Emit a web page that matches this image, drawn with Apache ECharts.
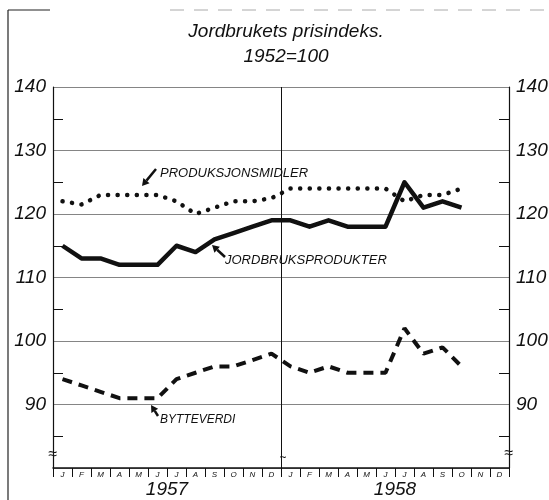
<!DOCTYPE html>
<html>
<head>
<meta charset="utf-8">
<script src="https://cdn.jsdelivr.net/npm/echarts@6/dist/echarts.min.js"></script>
<style>
  html, body { margin: 0; padding: 0; background: #fff; }
  #chart { width: 549px; height: 500px; }
</style>
</head>
<body>
<div id="chart"></div>
<script>
// month letters and years on the x axis
var monthLetters = ["J", "F", "M", "A", "M", "J", "J", "A", "S", "O", "N", "D"];
var years = ["1957", "1958"];
var categories = [];
years.forEach(function (y) {
  monthLetters.forEach(function (m, i) { categories.push(y + "-" + (i + 1)); });
});

// index values, 1952 = 100 (Jan 1957 .. Oct 1958)
var jordbruksprodukter = [115, 113, 113, 112, 112, 112, 115, 114, 116, 117, 118, 119,
                          119, 118, 119, 118, 118, 118, 125, 121, 122, 121, null, null];
var produksjonsmidler = [122, 121.5, 123, 123, 123, 123, 122, 120, 121, 122, 122, 122.5,
                         124, 124, 124, 124, 124, 124, 122, 123, 123, 124, null, null];
var bytteverdi = [94, 93, 92, 91, 91, 91, 94, 95, 96, 96, 97, 98,
                  96, 95, 96, 95, 95, 95, 102, 98, 99, 96, null, null];

var FONT = "Liberation Sans";
var ital = { fontFamily: FONT, fontStyle: "italic", color: "#111" };

function arrow(x1, y1, x2, y2) {
  var a = Math.atan2(y2 - y1, x2 - x1);
  var len = 7, w = 4;
  var bx = x2 - len * Math.cos(a), by = y2 - len * Math.sin(a);
  var px = -Math.sin(a) * w, py = Math.cos(a) * w;
  return {
    type: "group",
    children: [
      { type: "line", shape: { x1: x1, y1: y1, x2: bx, y2: by }, style: { stroke: "#111", lineWidth: 2.5 } },
      { type: "polygon", shape: { points: [[x2, y2], [bx + px, by + py], [bx - px, by - py]] }, style: { fill: "#111" } }
    ]
  };
}

function yAxisCfg(pos, showSplit) {
  return {
    type: "value",
    position: pos,
    min: 80,
    max: 140,
    interval: 10,
    axisLine: { show: true, lineStyle: { color: "#111", width: 1.2 } },
    axisTick: { show: false, inside: true },
    minorTick: { show: true, splitNumber: 2, length: 10, lineStyle: { color: "#111", width: 1 } },
    splitLine: { show: showSplit, lineStyle: { color: "#666", width: 0.8 } },
    axisLabel: Object.assign({
      fontSize: 19,
      margin: 7,
      formatter: function (v) { return v === 80 ? "" : v; }
    }, ital)
  };
}

var chart = echarts.init(document.getElementById("chart"));
chart.setOption({
  backgroundColor: "#fff",
  animation: false,
  title: {
    text: "Jordbrukets prisindeks.\n1952=100",
    left: 281,
    top: 14,
    textAlign: "center",
    textStyle: Object.assign({ fontSize: 19, fontWeight: "normal", lineHeight: 25 }, ital)
  },
  grid: { left: 53, right: 40, top: 87, bottom: 32, outerBoundsMode: "none" },
  xAxis: [
    {
      type: "category",
      data: categories,
      boundaryGap: true,
      axisLine: { lineStyle: { color: "#111", width: 1.5 } },
      axisTick: { show: true, interval: 0, length: 9, lineStyle: { color: "#111", width: 1 } },
      axisLabel: Object.assign({
        interval: 0,
        fontSize: 8,
        margin: 3,
        formatter: function (v, i) { return monthLetters[i % 12]; }
      }, ital),
      splitLine: { show: false }
    },
    {
      type: "category",
      data: years,
      position: "bottom",
      offset: 10,
      boundaryGap: true,
      axisLine: { show: false },
      axisTick: { show: false },
      axisLabel: Object.assign({ fontSize: 19, margin: 2 }, ital),
      splitLine: { show: true, lineStyle: { color: "#111", width: 1 } }
    }
  ],
  yAxis: [yAxisCfg("left", true), yAxisCfg("right", false)],
  series: [
    {
      name: "Produksjonsmidler",
      type: "line",
      data: produksjonsmidler,
      showSymbol: false,
      lineStyle: { color: "#111", width: 4.5, type: [0.1, 9.5], cap: "round" },
      z: 3
    },
    {
      name: "Jordbruksprodukter",
      type: "line",
      data: jordbruksprodukter,
      showSymbol: false,
      lineStyle: { color: "#111", width: 4.5, join: "round" },
      z: 4
    },
    {
      name: "Bytteverdi",
      type: "line",
      data: bytteverdi,
      showSymbol: false,
      lineStyle: { color: "#111", width: 4, type: [10, 7] },
      z: 3
    }
  ],
  graphic: [
    // scanned frame edges
    { type: "line", shape: { x1: 8, y1: 10, x2: 8, y2: 500 }, style: { stroke: "#222", lineWidth: 1.2 } },
    { type: "line", shape: { x1: 8, y1: 10, x2: 50, y2: 10 }, style: { stroke: "#222", lineWidth: 1.2 } },
    { type: "line", shape: { x1: 170, y1: 10, x2: 549, y2: 10 }, style: { stroke: "#aaa", lineWidth: 1, lineDash: [14, 10] } },
    // annotations
    { type: "text", x: 160, y: 173, style: { text: "PRODUKSJONSMIDLER", fontSize: 13, verticalAlign: "middle", fill: "#111", fontFamily: FONT, fontStyle: "italic" } },
    arrow(156, 169, 142, 186),
    { type: "text", x: 225, y: 260, style: { text: "JORDBRUKSPRODUKTER", fontSize: 13, verticalAlign: "middle", fill: "#111", fontFamily: FONT, fontStyle: "italic" } },
    arrow(225, 257, 212, 245),
    { type: "text", x: 160, y: 420, style: { text: "BYTTEVERDI", fontSize: 12, verticalAlign: "middle", fill: "#111", fontFamily: FONT, fontStyle: "italic" } },
    arrow(158, 416, 151, 405),
    // axis break marks
    { type: "text", x: 53, y: 455, style: { text: "≈", fontSize: 16, align: "center", verticalAlign: "middle", fill: "#111" } },
    { type: "text", x: 283, y: 458, style: { text: "~", fontSize: 12, align: "center", verticalAlign: "middle", fill: "#111" } },
    { type: "text", x: 509, y: 454, style: { text: "≈", fontSize: 16, align: "center", verticalAlign: "middle", fill: "#111" } }
  ]
});
</script>
</body>
</html>
